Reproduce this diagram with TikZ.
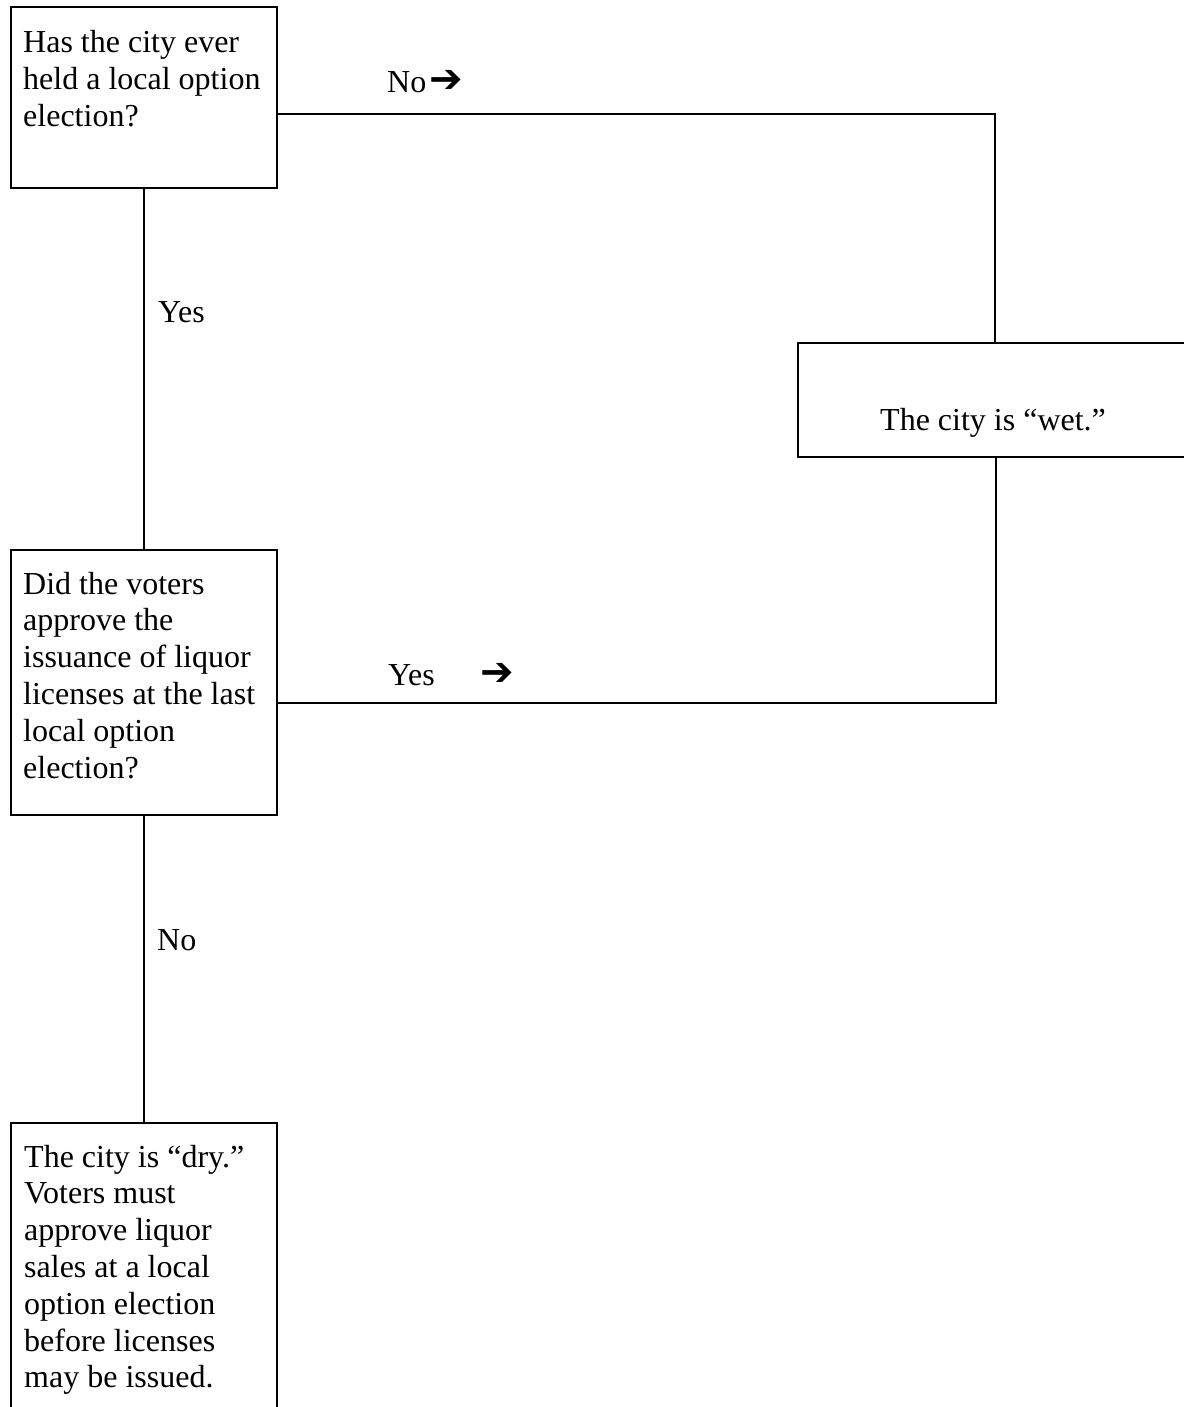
\documentclass[tikz,border=0pt]{standalone}
\usepackage{fontspec}
\setmainfont{Liberation Serif}
\newfontfamily\arrowfont{DejaVu Sans Bold}
\newcommand{\heavyarrow}{{\arrowfont\fontsize{40}{40}\selectfont ➔}}
\begin{document}
\begin{tikzpicture}[x=1pt,y=-1pt,
  box/.style={draw,line width=2.2pt,rectangle,inner sep=0pt,anchor=north west},
  txt/.style={anchor=base west,inner sep=0pt,font=\fontsize{32}{36.8}\selectfont},
  conn/.style={line width=2.2pt}]
\useasboundingbox (0,0) rectangle (1183,1407);
% boxes
\node[box,minimum width=266pt,minimum height=181pt] (q1) at (10,6) {};
\node[box,minimum width=400pt,minimum height=114pt] (wet) at (797,342) {};
\node[box,minimum width=266pt,minimum height=265pt] (q2) at (10,549) {};
\node[box,minimum width=266pt,minimum height=300pt] (dry) at (10,1122) {};
% box texts
\node[txt] (q1t) at (23,53) {\parbox[t]{250pt}{\raggedright Has the city ever\\held a local option\\election?}};
\node[txt] (wett) at (880,430) {The city is “wet.”};
\node[txt] (q2t) at (23,594) {\parbox[t]{250pt}{\raggedright Did the voters\\approve the\\issuance of liquor\\licenses at the last\\local option\\election?}};
\node[txt] (dryt) at (24,1167) {\parbox[t]{250pt}{\raggedright The city is “dry.”\\Voters must\\approve liquor\\sales at a local\\option election\\before licenses\\may be issued.}};
% connector corners
\coordinate (c1) at (995,113.7);
\coordinate (c2) at (996,703);
% connectors
\draw[conn] (c1 -| q1.east) -- (c1) -- (c1 |- wet.north);
\draw[conn] (c2 |- wet.south) -- (c2) -- (c2 -| q2.east);
\draw[conn] (q1.south) -- (q2.north);
\draw[conn] (q2.south) -- (dry.north);
% labels
\node[txt] (lno1) at (387,92.7) {No\hspace{3pt}\heavyarrow};
\node[txt] (lyes2) at (388,685) {Yes\hspace{46pt}\heavyarrow};
\node[txt] (lyes1) at (158,322.7) {Yes};
\node[txt] (lno2) at (157,950) {No};
\end{tikzpicture}
\end{document}
